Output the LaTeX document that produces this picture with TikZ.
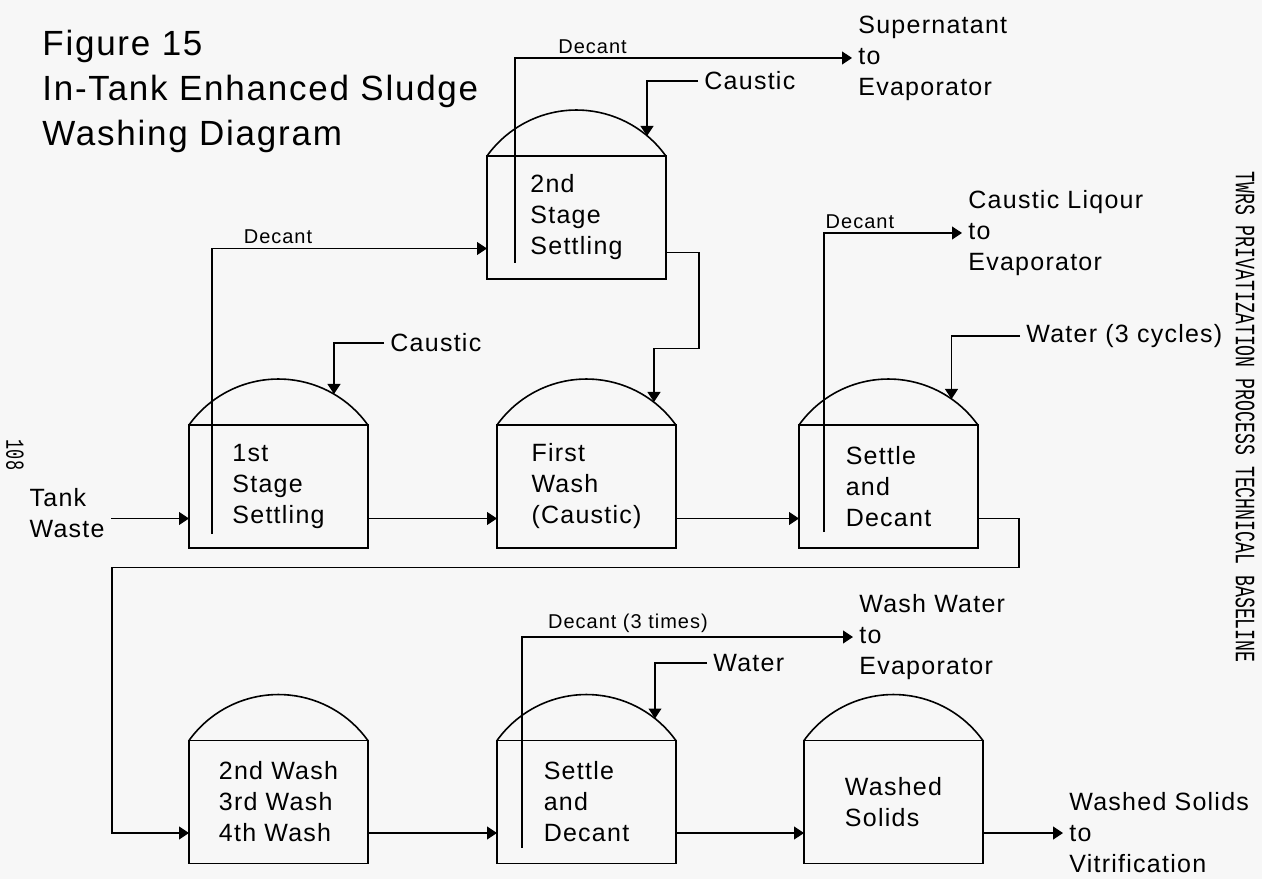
\documentclass[tikz,border=0pt]{standalone}
\usepackage{fontspec}
\setmainfont{Liberation Sans}[LetterSpace=5]
\newfontfamily\sidefont{Liberation Mono}[FakeStretch=0.65]
\usetikzlibrary{arrows.meta, positioning, calc}
\definecolor{paper}{RGB}{247,247,247}

\tikzset{
  tank/.style={draw, line width=0.8pt, outer sep=0pt, inner sep=0pt,
    minimum width=89.5pt, minimum height=61.5pt, align=left,
    font=\fontsize{12.5}{15.5}\selectfont},
  pipe/.style={line width=0.6pt, -{Triangle[length=5pt, width=6.5pt]}},
  lbl/.style={align=left, inner sep=3pt, font=\fontsize{12.5}{15.5}\selectfont},
  decant/.style={above, inner sep=2pt, font=\fontsize{10}{12}\selectfont}
}

\begin{document}
\begin{tikzpicture}[x=0.5pt, y=0.5pt]
  \fill[paper] (0,0) rectangle (1262,879);
  \useasboundingbox (0,0) rectangle (1262,879);

  \node[anchor=north west, align=left, inner sep=0pt, font=\fontsize{17.5}{22.5}\selectfont] (title) at (42,849)
    {Figure 15\\In-Tank Enhanced Sludge\\Washing Diagram};
  \node[rotate=-90, font=\sidefont\fontsize{14}{14}\selectfont] (side) at (1245,462)
    {TWRS PRIVATIZATION PROCESS TECHNICAL BASELINE};
  \node[rotate=-90, font=\sidefont\fontsize{13}{13}\selectfont] (pg) at (15,424) {108};

  \node[tank] (s2) at (576.5,661.5) {2nd\\Stage\\Settling};
  \node[tank] (s1) at (278.5,392.5) {1st\\Stage\\Settling};
  \node[tank] (w1) at (586.5,392.5) {First\\Wash\\(Caustic)};
  \node[tank] (d1) at (888.5,392.5) {Settle\\and\\Decant};
  \node[tank] (w2) at (278.5,77) {2nd Wash\\3rd Wash\\4th Wash};
  \node[tank] (d2) at (586.5,77) {Settle\\and\\Decant};
  \node[tank] (ws) at (893.5,77) {Washed\\Solids};
  \foreach \t in {s1,w1,d1,s2,w2,d2,ws}
    \draw[line width=0.8pt] (\t.north west) arc (144.4:35.6:110);

  \node[lbl, anchor=east] (tw) at (111,366) {Tank\\Waste};
  \node[lbl, anchor=west] (cf1) at (384,536) {Caustic};
  \node[lbl, anchor=west] (cf2) at (698,798) {Caustic};
  \node[lbl, anchor=west] (wf1) at (1020,543) {Water (3 cycles)};
  \node[lbl, anchor=west] (wf2) at (707,216) {Water};
  \node[lbl, anchor=west] (sup) at (852,821) {Supernatant\\to\\Evaporator};
  \node[lbl, anchor=west] (cl) at (962,646) {Caustic Liqour\\to\\Evaporator};
  \node[lbl, anchor=west] (ww) at (853,242) {Wash Water\\to\\Evaporator};
  \node[lbl, anchor=west] (wso) at (1063,46) {Washed Solids\\to\\Vitrification};

  \coordinate (s1in) at ($(s1.west)+(0,-32)$);
  \draw[pipe] (s1in -| tw.east) -- (s1in);
  \draw[pipe] ($(s1.east)+(0,-32)$) -- ($(w1.west)+(0,-32)$);
  \draw[pipe] ($(w1.east)+(0,-32)$) -- ($(d1.west)+(0,-32)$);
  \draw[pipe] ($(s1.south west)+(23,14)$) |- node[decant, pos=0.62] {Decant} ($(s2.west)+(0,-31)$);
  \draw[pipe] ($(s2.south west)+(28,16)$) |- node[decant, pos=0.615] {Decant} (sup.west);
  \draw[pipe] ($(s2.east)+(0,-35)$) -| ($(s2.east)+(33,-131)$) -| ($(w1.north)+(67.5,23)$);
  \draw[pipe] ($(d1.south west)+(25,16)$) |- node[decant, pos=0.63] {Decant} (cl.west);
  \draw[pipe] ($(d1.east)+(0,-32)$) -- ++(41,0) |- ++(-907,-49) |- ($(w2.west)+(0,-31)$);

  \draw[pipe] (cf1.west) -| ($(s1.north)+(55.5,31)$);
  \draw[pipe] (cf2.west) -| ($(s2.north)+(70.5,20)$);
  \draw[pipe] (wf1.west) -| ($(d1.north)+(63,26)$);
  \draw[pipe] (wf2.west) -| ($(d2.north)+(68.5,22)$);

  \draw[pipe] ($(w2.east)+(0,-31)$) -- ($(d2.west)+(0,-31)$);
  \draw[pipe] ($(d2.east)+(0,-31)$) -- ($(ws.west)+(0,-31)$);
  \draw[pipe] ($(d2.south west)+(25,16)$) |- node[decant, pos=0.66] {Decant (3 times)} (ww.west);
  \draw[pipe] (wso.west -| ws.east) -- (wso.west);
\end{tikzpicture}
\end{document}
